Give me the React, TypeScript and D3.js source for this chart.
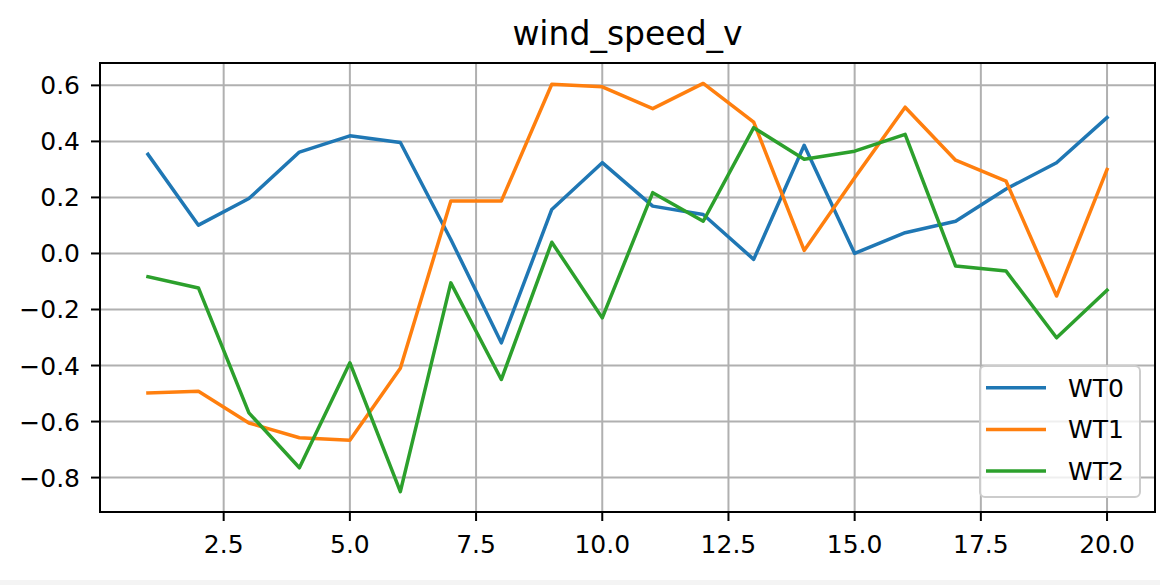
import React from 'react';
import * as d3 from 'd3';

// x positions (time step) and the three turbine series
const steps = [1, 2, 3, 4, 5, 6, 7, 8, 9, 10, 11, 12, 13, 14, 15, 16, 17, 18, 19, 20];
const wt0 = [0.354, 0.101, 0.196, 0.362, 0.42, 0.396, 0.05, -0.319, 0.157, 0.324, 0.169, 0.139, -0.021, 0.386, 0.0, 0.074, 0.115, 0.23, 0.324, 0.485];
const wt1 = [-0.498, -0.492, -0.605, -0.658, -0.667, -0.41, 0.187, 0.187, 0.604, 0.595, 0.517, 0.607, 0.469, 0.011, 0.27, 0.522, 0.333, 0.258, -0.152, 0.3];
const wt2 = [-0.083, -0.123, -0.569, -0.765, -0.39, -0.85, -0.105, -0.45, 0.04, -0.23, 0.217, 0.115, 0.449, 0.336, 0.365, 0.425, -0.045, -0.063, -0.301, -0.131];

const seriesNames = ['WT0', 'WT1', 'WT2'];
const colors = ['#1f77b4', '#ff7f0e', '#2ca02c'];
const xTicks = [2.5, 5.0, 7.5, 10.0, 12.5, 15.0, 17.5, 20.0];
const yTicks = [-0.8, -0.6, -0.4, -0.2, 0.0, 0.2, 0.4, 0.6];

const width = 1160;
const height = 585;
const margin = { top: 63, right: 5, bottom: 73, left: 100 };
const font = 'DejaVu Sans, sans-serif';

const App = () => {
  const all = [wt0, wt1, wt2];

  // matplotlib style 5% padding on both axes
  const xPad = (d3.max(steps)! - d3.min(steps)!) * 0.05;
  const x = d3.scaleLinear()
    .domain([d3.min(steps)! - xPad, d3.max(steps)! + xPad])
    .range([margin.left, width - margin.right]);

  const yMin = d3.min(all.flat())!;
  const yMax = d3.max(all.flat())!;
  const yPad = (yMax - yMin) * 0.05;
  const y = d3.scaleLinear()
    .domain([yMin - yPad, yMax + yPad])
    .range([height - margin.bottom, margin.top]);

  const line = d3.line<number>()
    .x((_, i) => x(steps[i]))
    .y(d => y(d));

  const left = margin.left;
  const right = width - margin.right;
  const top = margin.top;
  const bottom = height - margin.bottom;

  // legend (lower right)
  const lg = { x: 980, y: 366, w: 160, h: 131 };
  const rowGap = 41.7;

  return (
    <svg width={width} height={height} style={{ position: 'absolute', left: 0, top: 0, display: 'block' }}
      fontFamily={font}>
      <rect x={0} y={0} width={width} height={height} fill="#fff" />
      <rect x={0} y={580} width={width} height={5} fill="#f4f4f4" />

      <text x={(left + right) / 2} y={45} textAnchor="middle" fontSize={33} fill="#000">wind_speed_v</text>

      {/* grid */}
      {xTicks.map(t => (
        <line key={'gx' + t} x1={x(t)} x2={x(t)} y1={top} y2={bottom} stroke="#b0b0b0" strokeWidth={2} />
      ))}
      {yTicks.map(t => (
        <line key={'gy' + t} x1={left} x2={right} y1={y(t)} y2={y(t)} stroke="#b0b0b0" strokeWidth={2} />
      ))}

      {/* series */}
      {all.map((s, i) => (
        <path key={seriesNames[i]} d={line(s) || ''} fill="none" stroke={colors[i]} strokeWidth={3.5}
          strokeLinejoin="round" strokeLinecap="square" />
      ))}

      {/* spines */}
      <rect x={left} y={top} width={right - left} height={bottom - top} fill="none" stroke="#000" strokeWidth={2} />

      {/* ticks */}
      {xTicks.map(t => (
        <g key={'tx' + t}>
          <line x1={x(t)} x2={x(t)} y1={bottom} y2={bottom + 9} stroke="#000" strokeWidth={2} />
          <text x={x(t)} y={553} textAnchor="middle" fontSize={25} fill="#000">{t.toFixed(1)}</text>
        </g>
      ))}
      {yTicks.map(t => (
        <g key={'ty' + t}>
          <line x1={left - 9} x2={left} y1={y(t)} y2={y(t)} stroke="#000" strokeWidth={2} />
          <text x={left - 20} y={y(t)} dy="0.36em" textAnchor="end" fontSize={25} fill="#000">
            {(t < 0 ? '\u2212' : '') + Math.abs(t).toFixed(1)}
          </text>
        </g>
      ))}

      {/* legend */}
      <rect x={lg.x} y={lg.y} width={lg.w} height={lg.h} rx={5} fill="#fff" fillOpacity={0.8}
        stroke="#cccccc" strokeWidth={2} />
      {seriesNames.map((name, i) => (
        <g key={'lg' + name}>
          <line x1={986} x2={1046} y1={lg.y + 21.7 + i * rowGap} y2={lg.y + 21.7 + i * rowGap}
            stroke={colors[i]} strokeWidth={3.5} />
          <text x={1068} y={lg.y + 21.7 + i * rowGap} dy="0.36em" fontSize={25} fill="#000">{name}</text>
        </g>
      ))}
    </svg>
  );
};

export default App;
